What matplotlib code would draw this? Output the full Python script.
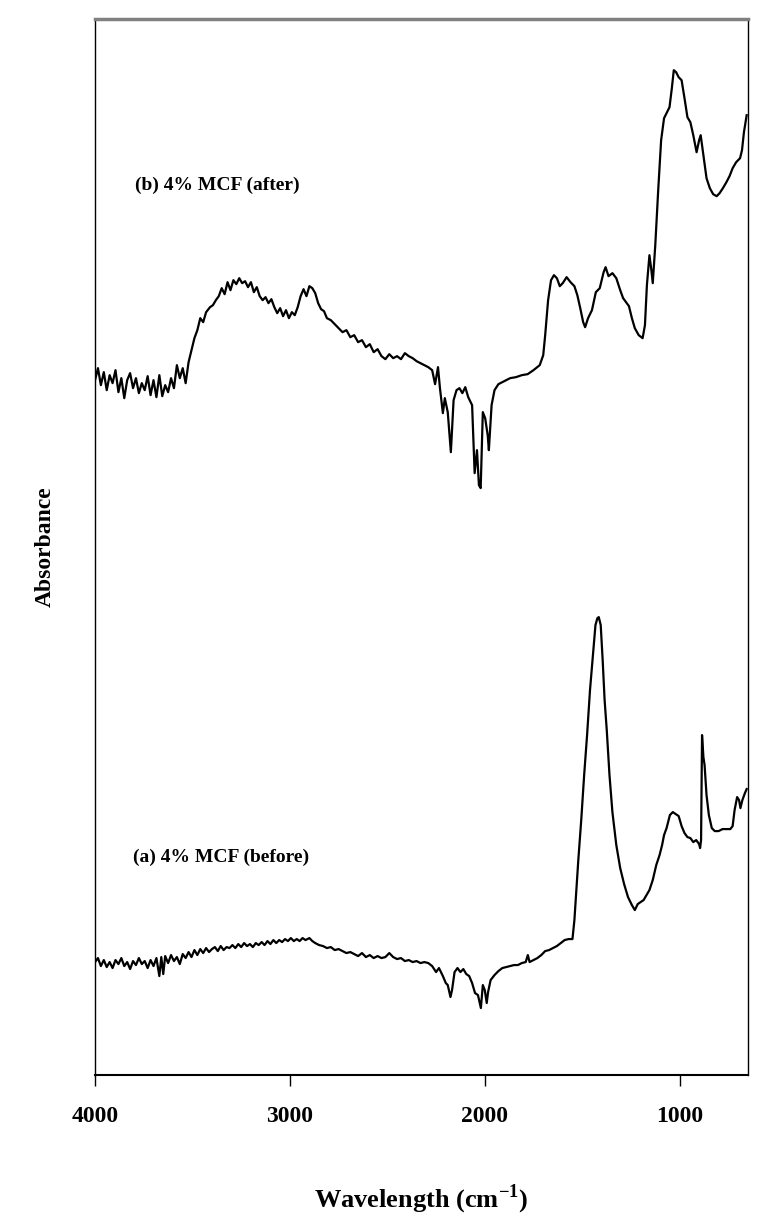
import matplotlib.pyplot as plt

plt.rcParams['mathtext.fontset'] = 'custom'
plt.rcParams['mathtext.rm'] = 'Liberation Serif:bold'
plt.rcParams['mathtext.bf'] = 'Liberation Serif:bold'

# (b) 4% MCF (after) - upper trace
b_wn = [4000, 3985, 3970, 3955, 3940, 3925, 3910, 3895, 3880, 3865, 3850, 3835, 3820, 3805,
        3790, 3775, 3760, 3745, 3730, 3715, 3700, 3685, 3670, 3655, 3640, 3625, 3610, 3595,
        3580, 3565, 3550, 3535, 3520, 3505, 3490, 3475, 3460, 3445, 3430, 3410, 3395, 3380,
        3365, 3350, 3335, 3320, 3305, 3290, 3275, 3260, 3245, 3230, 3215, 3200, 3185, 3170,
        3155, 3140, 3125, 3110, 3095, 3080, 3065, 3050, 3035, 3020, 3005, 2990, 2975, 2960,
        2945, 2930, 2915, 2900, 2885, 2870, 2855, 2840, 2825, 2810, 2790, 2770, 2750, 2730,
        2710, 2690, 2670, 2650, 2630, 2610, 2590, 2570, 2550, 2530, 2510, 2490, 2470, 2450,
        2430, 2410, 2390, 2370, 2350, 2330, 2310, 2290, 2270, 2255, 2240, 2230, 2215, 2205,
        2190, 2174, 2160, 2145, 2130, 2115, 2100, 2085, 2065, 2052, 2040, 2030, 2021, 2010,
        1998, 1985, 1979, 1965, 1950, 1930, 1900, 1870, 1840, 1810, 1780, 1750, 1718, 1700,
        1690, 1675, 1660, 1645, 1630, 1615, 1600, 1580, 1560, 1540, 1525, 1510, 1495, 1485,
        1470, 1450, 1430, 1410, 1390, 1380, 1365, 1345, 1325, 1305, 1290, 1275, 1260, 1245,
        1230, 1210, 1190, 1178, 1168, 1155, 1145, 1138, 1125, 1110, 1095, 1080, 1067, 1052,
        1040, 1030, 1018, 1005, 990, 975, 960, 945, 930, 913, 900, 892, 880, 862, 845, 828,
        810, 795, 778, 760, 744, 728, 710, 690, 680, 670, 656]
b_abs = [7.20, 7.32, 7.15, 7.28, 7.10, 7.25, 7.17, 7.30, 7.08, 7.22, 7.02, 7.20, 7.27, 7.12,
         7.22, 7.07, 7.17, 7.10, 7.24, 7.05, 7.20, 7.03, 7.25, 7.04, 7.15, 7.08, 7.22, 7.12,
         7.35, 7.22, 7.32, 7.17, 7.38, 7.50, 7.62, 7.70, 7.82, 7.78, 7.88, 7.93, 7.95, 8.00,
         8.04, 8.12, 8.06, 8.18, 8.10, 8.20, 8.16, 8.22, 8.17, 8.19, 8.13, 8.18, 8.08, 8.13,
         8.04, 8.00, 8.03, 7.97, 8.01, 7.93, 7.87, 7.92, 7.84, 7.90, 7.82, 7.88, 7.85, 7.93,
         8.04, 8.11, 8.04, 8.14, 8.12, 8.07, 7.97, 7.91, 7.89, 7.82, 7.80, 7.76, 7.72, 7.68,
         7.70, 7.63, 7.65, 7.58, 7.60, 7.53, 7.56, 7.48, 7.51, 7.44, 7.41, 7.46, 7.42, 7.44,
         7.41, 7.47, 7.44, 7.42, 7.39, 7.37, 7.35, 7.33, 7.30, 7.16, 7.33, 7.12, 6.87, 7.02,
         6.88, 6.48, 7.00, 7.10, 7.12, 7.07, 7.13, 7.03, 6.95, 6.27, 6.50, 6.15, 6.12, 6.88,
         6.82, 6.65, 6.50, 6.95, 7.10, 7.16, 7.19, 7.22, 7.23, 7.25, 7.26, 7.30, 7.35, 7.45,
         7.65, 8.00, 8.20, 8.25, 8.22, 8.14, 8.17, 8.23, 8.18, 8.14, 8.05, 7.92, 7.78, 7.73,
         7.82, 7.90, 8.08, 8.12, 8.28, 8.33, 8.24, 8.27, 8.22, 8.10, 8.02, 7.98, 7.94, 7.82,
         7.72, 7.65, 7.62, 7.75, 8.15, 8.45, 8.30, 8.17, 8.55, 9.10, 9.60, 9.82, 9.87, 9.93,
         10.12, 10.30, 10.28, 10.23, 10.20, 10.02, 9.83, 9.78, 9.65, 9.48, 9.60, 9.65, 9.48, 9.22, 9.12, 9.06,
         9.04, 9.07, 9.12, 9.18, 9.24, 9.32, 9.38, 9.42, 9.50, 9.68, 9.85]

# (a) 4% MCF (before) - lower trace
a_wn = [4000, 3985, 3970, 3955, 3940, 3925, 3910, 3895, 3880, 3865, 3850, 3835, 3820, 3805,
        3790, 3775, 3760, 3745, 3730, 3715, 3700, 3685, 3670, 3660, 3650, 3640, 3625, 3610,
        3595, 3580, 3565, 3550, 3535, 3520, 3505, 3490, 3475, 3460, 3445, 3430, 3415, 3400,
        3385, 3370, 3355, 3340, 3325, 3310, 3295, 3280, 3265, 3250, 3235, 3220, 3205, 3190,
        3175, 3160, 3145, 3130, 3115, 3100, 3085, 3070, 3055, 3040, 3025, 3010, 2995, 2980,
        2965, 2950, 2935, 2920, 2900, 2885, 2870, 2850, 2830, 2810, 2790, 2770, 2750, 2730,
        2710, 2690, 2670, 2650, 2630, 2610, 2590, 2570, 2550, 2530, 2510, 2490, 2470, 2450,
        2430, 2410, 2390, 2370, 2350, 2330, 2310, 2290, 2270, 2250, 2235, 2215, 2200, 2190,
        2176, 2168, 2155, 2140, 2125, 2110, 2095, 2080, 2065, 2050, 2035, 2020, 2010, 2000,
        1990, 1983, 1970, 1950, 1930, 1910, 1890, 1870, 1850, 1830, 1810, 1790, 1779, 1770,
        1750, 1730, 1710, 1690, 1670, 1650, 1630, 1610, 1590, 1570, 1550, 1540, 1530, 1520,
        1505, 1490, 1475, 1460, 1445, 1432, 1422, 1415, 1405, 1395, 1385, 1374, 1360, 1345,
        1325, 1305, 1285, 1265, 1245, 1230, 1215, 1200, 1185, 1170, 1155, 1138, 1120, 1103,
        1090, 1080, 1067, 1050, 1035, 1020, 1005, 990, 975, 960, 945, 930, 915, 900, 895,
        890, 885, 878, 872, 862, 850, 835, 820, 800, 780, 760, 740, 728, 718, 705, 695, 688,
        678, 665, 656]
a_abs = [1.38, 1.42, 1.34, 1.40, 1.33, 1.38, 1.32, 1.40, 1.36, 1.42, 1.34, 1.38, 1.31, 1.39,
         1.35, 1.42, 1.36, 1.39, 1.32, 1.40, 1.34, 1.42, 1.24, 1.43, 1.26, 1.44, 1.37, 1.45,
         1.39, 1.43, 1.36, 1.46, 1.42, 1.48, 1.43, 1.50, 1.45, 1.51, 1.47, 1.52, 1.48, 1.51,
         1.53, 1.49, 1.54, 1.50, 1.53, 1.52, 1.55, 1.52, 1.56, 1.53, 1.57, 1.54, 1.56, 1.53,
         1.57, 1.55, 1.58, 1.55, 1.59, 1.56, 1.60, 1.57, 1.60, 1.58, 1.61, 1.59, 1.62, 1.59,
         1.61, 1.59, 1.62, 1.60, 1.62, 1.59, 1.57, 1.55, 1.54, 1.52, 1.53, 1.50, 1.51, 1.49,
         1.47, 1.48, 1.46, 1.44, 1.47, 1.43, 1.45, 1.42, 1.44, 1.42, 1.43, 1.47, 1.43, 1.41,
         1.42, 1.39, 1.40, 1.38, 1.39, 1.37, 1.38, 1.37, 1.34, 1.28, 1.32, 1.24, 1.17, 1.15,
         1.03, 1.10, 1.28, 1.32, 1.28, 1.31, 1.26, 1.24, 1.17, 1.07, 1.05, 0.92, 1.15, 1.10,
         0.97, 1.08, 1.20, 1.25, 1.29, 1.32, 1.33, 1.34, 1.35, 1.35, 1.37, 1.38, 1.45, 1.38,
         1.40, 1.42, 1.45, 1.49, 1.50, 1.52, 1.54, 1.57, 1.60, 1.61, 1.61, 1.80, 2.10, 2.40,
         2.80, 3.25, 3.65, 4.10, 4.45, 4.75, 4.82, 4.83, 4.75, 4.40, 4.00, 3.70, 3.25, 2.88,
         2.55, 2.32, 2.16, 2.03, 1.95, 1.90, 1.96, 1.98, 2.00, 2.05, 2.10, 2.20, 2.35, 2.45,
         2.55, 2.65, 2.72, 2.85, 2.88, 2.86, 2.84, 2.74, 2.67, 2.63, 2.62, 2.58, 2.60, 2.56, 2.52,
         2.60, 3.65, 3.43, 3.35, 3.05, 2.85, 2.72, 2.69, 2.69, 2.71, 2.71, 2.71, 2.74, 2.90, 3.03, 3.00, 2.92,
         3.00, 3.07, 3.11]

x_ticks = [4000, 3000, 2000, 1000]
serif = ['Liberation Serif', 'DejaVu Serif']

fig = plt.figure(figsize=(7.79, 12.32), dpi=100)
ax = fig.add_axes([0.122, 0.1274, 0.838, 0.857])

ax.plot(b_wn, b_abs, color='black', linewidth=1.6)
ax.plot(a_wn, a_abs, color='black', linewidth=1.6)

ax.set_xlim(4000, 650)
ax.set_ylim(0.25, 10.81)
ax.set_xticks(x_ticks)
ax.set_xticklabels([str(t) for t in x_ticks], family=serif, fontweight='bold', fontsize=17)
ax.set_yticks([])
ax.tick_params(axis='x', direction='out', length=8, width=1, pad=14)

for side in ['left', 'right', 'bottom']:
    ax.spines[side].set_linewidth(1.0)
ax.spines['bottom'].set_linewidth(1.5)
ax.spines['top'].set_color('gray')
ax.spines['top'].set_linewidth(2.5)

ax.text(3795, 9.15, '(b) 4% MCF (after)', family=serif, fontweight='bold',
        fontsize=14, va='center', ha='left')
ax.text(3805, 2.43, '(a) 4% MCF (before)', family=serif, fontweight='bold',
        fontsize=14, va='center', ha='left')

ax.set_ylabel('Absorbance', family=serif, fontweight='bold', fontsize=17, labelpad=28)
ax.set_xlabel(r'Wavelength (cm$^{\mathbf{-1}}$)', family=serif, fontweight='bold',
              fontsize=19, labelpad=40)

fig.savefig('out.png', dpi=100)
